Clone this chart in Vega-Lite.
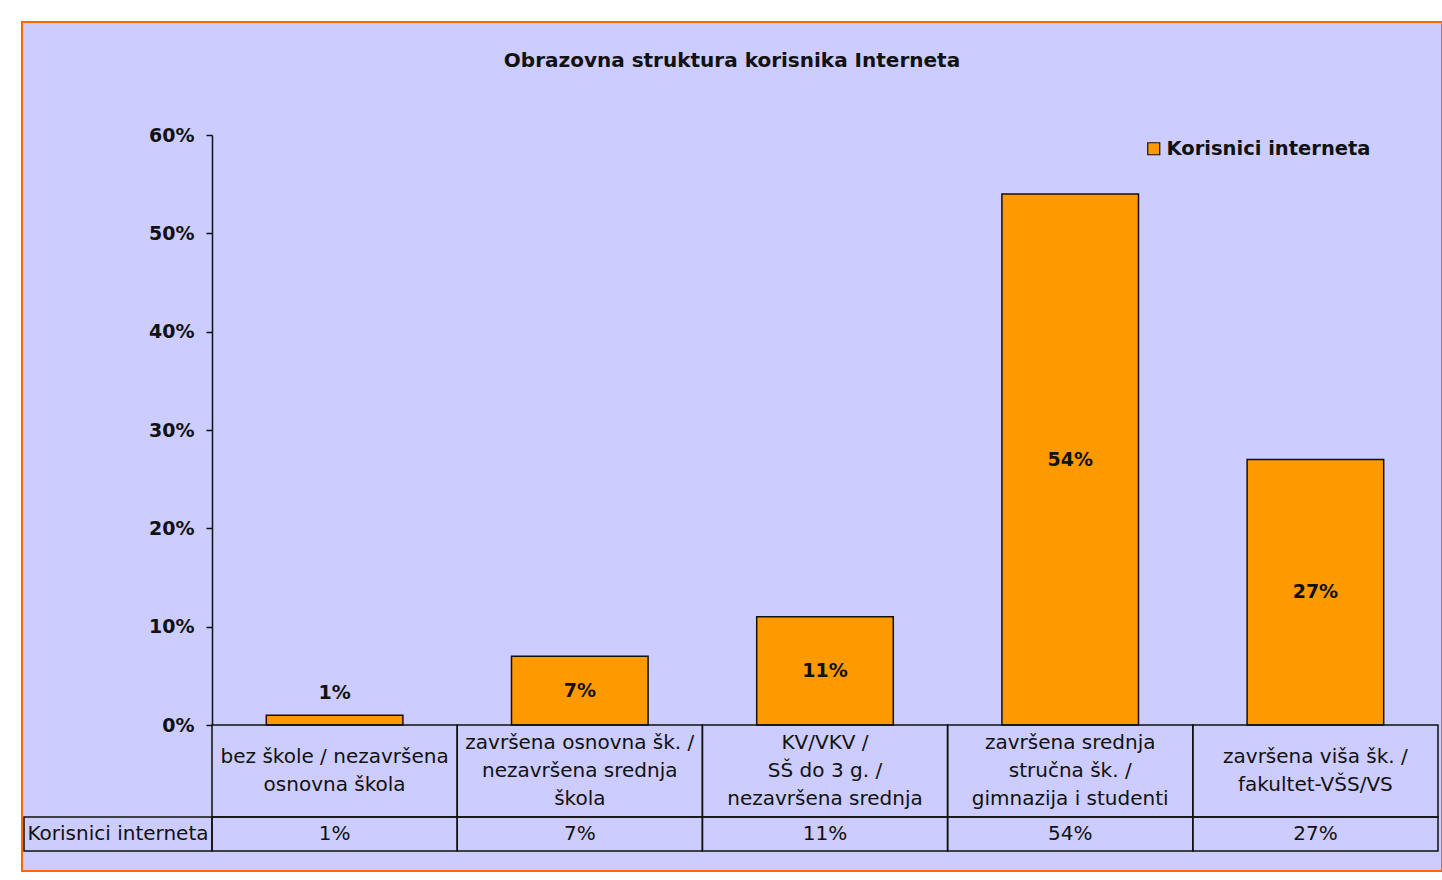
{
  "$schema": "https://vega.github.io/schema/vega-lite/v6.json",
  "width": 1420,
  "height": 849,
  "autosize": {"type": "none"},
  "padding": {"left": 22, "top": 22, "right": 0, "bottom": 9},
  "background": "#FFFFFF",
  "config": {
    "view": {"fill": "#CCCCFF", "stroke": "#FF6600", "strokeWidth": 2},
    "font": "DejaVu Sans",
    "text": {"font": "DejaVu Sans", "color": "#111111"}
  },
  "title": {
    "text": "Obrazovna struktura korisnika Interneta",
    "font": "DejaVu Sans",
    "fontSize": 20,
    "fontWeight": "bold",
    "color": "#111111",
    "anchor": "middle",
    "frame": "group",
    "offset": -49
  },
  "datasets": {
    "education": [
      {"category": "bez škole / nezavršena|osnovna škola", "series": "Korisnici interneta", "value": 0.01},
      {"category": "završena osnovna šk. /|nezavršena srednja|škola", "series": "Korisnici interneta", "value": 0.07},
      {"category": "KV/VKV /|SŠ do 3 g. /|nezavršena srednja", "series": "Korisnici interneta", "value": 0.11},
      {"category": "završena srednja|stručna šk. /|gimnazija i studenti", "series": "Korisnici interneta", "value": 0.54},
      {"category": "završena viša šk. /|fakultet-VŠS/VS", "series": "Korisnici interneta", "value": 0.27}
    ],
    "header": [
      {"series": "Korisnici interneta"}
    ]
  },
  "resolve": {"scale": {"x": "independent", "y": "independent"}},
  "layer": [
    {
      "data": {"name": "education"},
      "encoding": {
        "x": {
          "field": "category", "type": "nominal", "sort": null,
          "scale": {
            "domain": ["bez škole / nezavršena|osnovna škola", "završena osnovna šk. /|nezavršena srednja|škola", "KV/VKV /|SŠ do 3 g. /|nezavršena srednja", "završena srednja|stručna šk. /|gimnazija i studenti", "završena viša šk. /|fakultet-VŠS/VS"],
            "range": [190, 1416], "paddingInner": 0, "paddingOuter": 0
          },
          "axis": null
        },
        "y": {
          "field": "value", "type": "quantitative",
          "scale": {"domain": [0, 0.6], "range": [703, 113], "nice": false, "zero": true},
          "axis": {
            "orient": "left", "offset": -190, "title": null, "grid": false,
            "values": [0, 0.1, 0.2, 0.3, 0.4, 0.5, 0.6], "format": ".0%",
            "domainColor": "#111111", "domainWidth": 1.5,
            "tickColor": "#111111", "tickWidth": 1.5, "tickSize": 6,
            "labelFont": "DejaVu Sans", "labelFontSize": 19, "labelFontWeight": "bold",
            "labelColor": "#111111", "labelPadding": 12
          }
        }
      },
      "layer": [
        {
          "mark": {"type": "bar", "width": {"band": 0.557}, "stroke": "#111111", "strokeWidth": 1.5},
          "encoding": {
            "color": {
              "field": "series", "type": "nominal",
              "scale": {"range": ["#FF9900"]},
              "legend": {
                "orient": "none", "legendX": 1122, "legendY": 117, "title": null,
                "symbolType": "square", "symbolSize": 144,
                "symbolStrokeColor": "#111111", "symbolStrokeWidth": 1.2,
                "labelFont": "DejaVu Sans", "labelFontSize": 19.5, "labelFontWeight": "bold",
                "labelColor": "#111111", "labelOffset": 3, "labelLimit": 400, "padding": 0
              }
            }
          }
        },
        {
          "transform": [{"filter": "datum.value < 0.05"}],
          "mark": {"type": "text", "fontSize": 19, "fontWeight": "bold", "baseline": "middle", "align": "center", "dy": -22},
          "encoding": {
            "text": {"field": "value", "type": "quantitative", "format": ".0%"}
          }
        }
      ]
    },
    {
      "data": {"name": "education"},
      "transform": [{"filter": "datum.value >= 0.05"}],
      "mark": {"type": "text", "fontSize": 19, "fontWeight": "bold", "baseline": "middle", "align": "center"},
      "encoding": {
        "x": {
          "field": "category", "type": "nominal", "sort": null,
          "scale": {
            "domain": ["bez škole / nezavršena|osnovna škola", "završena osnovna šk. /|nezavršena srednja|škola", "KV/VKV /|SŠ do 3 g. /|nezavršena srednja", "završena srednja|stručna šk. /|gimnazija i studenti", "završena viša šk. /|fakultet-VŠS/VS"],
            "range": [190, 1416], "paddingInner": 0, "paddingOuter": 0
          },
          "axis": null
        },
        "y": {
          "field": "value", "type": "quantitative",
          "scale": {"domain": [0, 0.6], "range": [703, 408], "nice": false, "zero": true},
          "axis": null
        },
        "text": {"field": "value", "type": "quantitative", "format": ".0%"}
      }
    },
    {
      "data": {"name": "education"},
      "encoding": {
        "x": {
          "field": "category", "type": "nominal", "sort": null,
          "scale": {
            "domain": ["bez škole / nezavršena|osnovna škola", "završena osnovna šk. /|nezavršena srednja|škola", "KV/VKV /|SŠ do 3 g. /|nezavršena srednja", "završena srednja|stručna šk. /|gimnazija i studenti", "završena viša šk. /|fakultet-VŠS/VS"],
            "range": [190, 1416], "paddingInner": 0, "paddingOuter": 0
          },
          "axis": null
        },
        "y": {
          "datum": "labels", "type": "nominal",
          "scale": {"range": [703, 795], "paddingInner": 0, "paddingOuter": 0},
          "axis": null
        }
      },
      "layer": [
        {"mark": {"type": "rect", "fill": "transparent", "stroke": "#111111", "strokeWidth": 1.5}},
        {
          "transform": [{"filter": "indexof(datum.category, '|') == lastindexof(datum.category, '|')"}],
          "mark": {"type": "text", "fontSize": 20, "lineBreak": "|", "lineHeight": 28, "baseline": "middle", "align": "center", "dy": -14},
          "encoding": {"text": {"field": "category", "type": "nominal"}}
        },
        {
          "transform": [{"filter": "indexof(datum.category, '|') != lastindexof(datum.category, '|')"}],
          "mark": {"type": "text", "fontSize": 20, "lineBreak": "|", "lineHeight": 28, "baseline": "middle", "align": "center", "dy": -28},
          "encoding": {"text": {"field": "category", "type": "nominal"}}
        }
      ]
    },
    {
      "data": {"name": "education"},
      "encoding": {
        "x": {
          "field": "category", "type": "nominal", "sort": null,
          "scale": {
            "domain": ["bez škole / nezavršena|osnovna škola", "završena osnovna šk. /|nezavršena srednja|škola", "KV/VKV /|SŠ do 3 g. /|nezavršena srednja", "završena srednja|stručna šk. /|gimnazija i studenti", "završena viša šk. /|fakultet-VŠS/VS"],
            "range": [190, 1416], "paddingInner": 0, "paddingOuter": 0
          },
          "axis": null
        },
        "y": {
          "datum": "values", "type": "nominal",
          "scale": {"range": [795, 829], "paddingInner": 0, "paddingOuter": 0},
          "axis": null
        }
      },
      "layer": [
        {"mark": {"type": "rect", "fill": "transparent", "stroke": "#111111", "strokeWidth": 1.5}},
        {
          "mark": {"type": "text", "fontSize": 20, "baseline": "middle", "align": "center"},
          "encoding": {"text": {"field": "value", "type": "quantitative", "format": ".0%"}}
        }
      ]
    },
    {
      "data": {"name": "header"},
      "encoding": {
        "x": {
          "field": "series", "type": "nominal",
          "scale": {"range": [2, 190], "paddingInner": 0, "paddingOuter": 0},
          "axis": null
        },
        "y": {
          "datum": "values", "type": "nominal",
          "scale": {"range": [795, 829], "paddingInner": 0, "paddingOuter": 0},
          "axis": null
        }
      },
      "layer": [
        {"mark": {"type": "rect", "fill": "transparent", "stroke": "#111111", "strokeWidth": 1.5}},
        {
          "mark": {"type": "text", "fontSize": 20, "baseline": "middle", "align": "center"},
          "encoding": {"text": {"field": "series", "type": "nominal"}}
        }
      ]
    }
  ]
}
